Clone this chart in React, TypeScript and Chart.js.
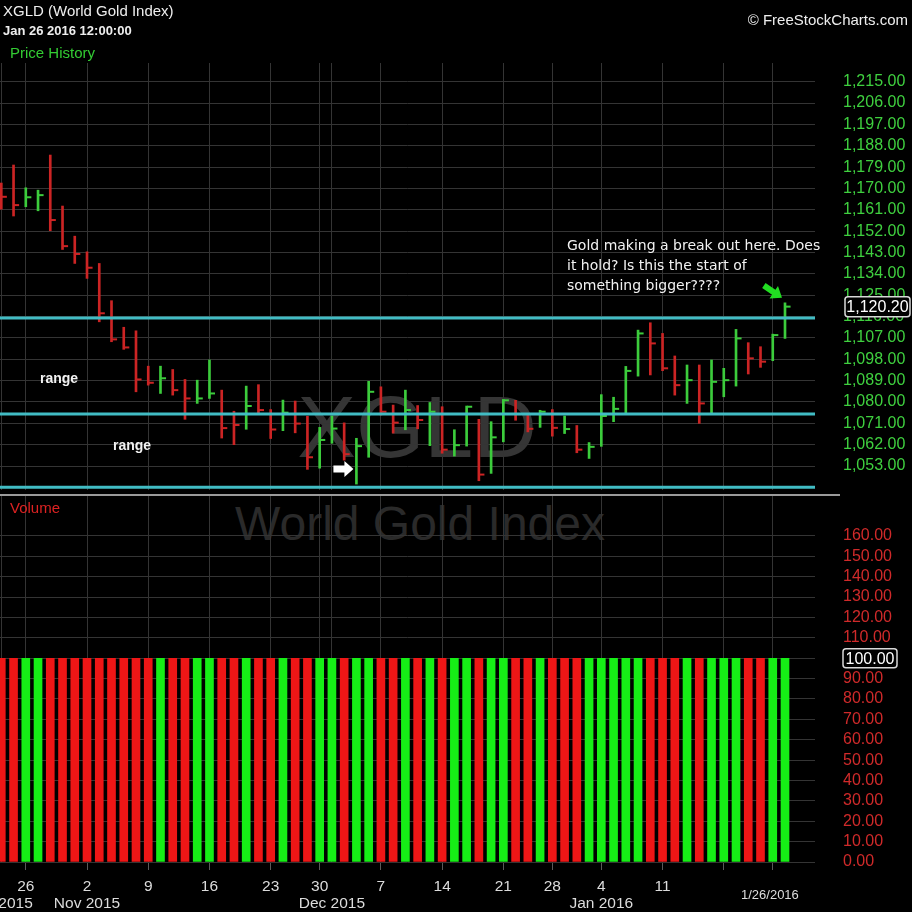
import React, { useEffect, useRef } from 'react';
import { Chart, registerables } from 'chart.js';

Chart.register(...registerables);

// ---------- data ----------
const tradingDays = [
  '2015-10-22', '2015-10-23', '2015-10-26', '2015-10-27', '2015-10-28', '2015-10-29', '2015-10-30',
  '2015-11-02', '2015-11-03', '2015-11-04', '2015-11-05', '2015-11-06',
  '2015-11-09', '2015-11-10', '2015-11-11', '2015-11-12', '2015-11-13',
  '2015-11-16', '2015-11-17', '2015-11-18', '2015-11-19', '2015-11-20',
  '2015-11-23', '2015-11-24', '2015-11-25', '2015-11-27',
  '2015-11-30', '2015-12-01', '2015-12-02', '2015-12-03', '2015-12-04',
  '2015-12-07', '2015-12-08', '2015-12-09', '2015-12-10', '2015-12-11',
  '2015-12-14', '2015-12-15', '2015-12-16', '2015-12-17', '2015-12-18',
  '2015-12-21', '2015-12-22', '2015-12-23', '2015-12-24',
  '2015-12-28', '2015-12-29', '2015-12-30', '2015-12-31',
  '2016-01-04', '2016-01-05', '2016-01-06', '2016-01-07', '2016-01-08',
  '2016-01-11', '2016-01-12', '2016-01-13', '2016-01-14', '2016-01-15',
  '2016-01-19', '2016-01-20', '2016-01-21', '2016-01-22',
  '2016-01-25', '2016-01-26',
];

const highs = [
  1172.3, 1179.9, 1170.3, 1169.3, 1184.1, 1162.6, 1149.9, 1143.3, 1138.4, 1122.7,
  1111.5, 1110.0, 1095.1, 1095.1, 1093.7, 1089.5, 1089.2, 1097.7, 1085.0, 1076.1,
  1086.7, 1087.3, 1076.8, 1080.8, 1080.4, 1074.0, 1069.3, 1074.1, 1071.2, 1064.7,
  1088.7, 1086.4, 1078.7, 1085.0, 1078.5, 1079.8, 1078.0, 1068.3, 1078.3, 1072.7,
  1071.7, 1081.1, 1080.7, 1074.5, 1076.5, 1076.8, 1074.1, 1070.1, 1062.9, 1083.1,
  1082.0, 1095.0, 1110.3, 1113.4, 1108.9, 1099.4, 1095.6, 1095.6, 1097.7, 1094.2,
  1110.6, 1105.0, 1103.3, 1108.6, 1121.8,
];

const lows = [
  1161.3, 1158.4, 1162.3, 1160.6, 1152.2, 1144.3, 1138.4, 1132.1, 1113.8, 1105.4,
  1102.2, 1084.3, 1087.1, 1083.6, 1082.9, 1072.7, 1079.4, 1081.5, 1064.8, 1062.0,
  1068.5, 1075.2, 1064.6, 1067.9, 1067.0, 1051.6, 1052.1, 1062.6, 1055.5, 1045.4,
  1056.7, 1074.5, 1066.9, 1068.3, 1068.7, 1061.6, 1058.4, 1057.2, 1061.4, 1046.8,
  1049.9, 1063.2, 1072.3, 1067.4, 1069.3, 1065.6, 1066.7, 1058.6, 1056.2, 1061.3,
  1071.7, 1074.7, 1090.9, 1091.4, 1093.2, 1082.9, 1079.4, 1071.0, 1075.5, 1082.2,
  1086.7, 1091.8, 1094.6, 1097.4, 1106.8,
];

const closes = [
  1166.5, 1163.0, 1166.3, 1167.2, 1156.7, 1145.7, 1142.4, 1136.6, 1117.4, 1106.4,
  1103.0, 1089.5, 1088.1, 1090.0, 1085.0, 1081.5, 1081.5, 1083.6, 1069.0, 1070.3,
  1078.3, 1076.6, 1068.4, 1075.5, 1070.9, 1056.7, 1064.0, 1068.8, 1058.0, 1061.4,
  1084.3, 1075.9, 1071.3, 1076.6, 1072.4, 1075.9, 1059.9, 1061.8, 1078.0, 1049.4,
  1065.1, 1080.7, 1074.9, 1068.7, 1075.9, 1069.1, 1068.6, 1059.9, 1061.1, 1074.1,
  1077.1, 1093.1, 1108.9, 1104.7, 1094.2, 1087.1, 1089.2, 1079.4, 1088.5, 1089.2,
  1106.8, 1098.4, 1097.0, 1108.2, 1120.2,
];

// 1 = up bar (green), 0 = down bar (red)
const priceUp = [
  0, 0, 1, 1, 0, 0, 0, 0, 0, 0,
  0, 0, 0, 1, 0, 0, 1, 1, 0, 0,
  1, 0, 0, 1, 0, 0, 1, 1, 0, 1,
  1, 0, 0, 1, 0, 1, 0, 1, 1, 0,
  1, 1, 0, 0, 1, 0, 1, 0, 1, 1,
  1, 1, 1, 0, 0, 0, 1, 0, 1, 1,
  1, 0, 0, 1, 1,
];

const volumes = [
  100, 100, 100, 100, 100, 100, 100, 100, 100, 100,
  100, 100, 100, 100, 100, 100, 100, 100, 100, 100,
  100, 100, 100, 100, 100, 100, 100, 100, 100, 100,
  100, 100, 100, 100, 100, 100, 100, 100, 100, 100,
  100, 100, 100, 100, 100, 100, 100, 100, 100, 100,
  100, 100, 100, 100, 100, 100, 100, 100, 100, 100,
  100, 100, 100, 100, 100,
];

const volumeUp = [
  0, 0, 1, 1, 0, 0, 0, 0, 0, 0,
  0, 0, 0, 1, 0, 0, 1, 1, 0, 0,
  1, 0, 0, 1, 0, 0, 1, 1, 0, 1,
  1, 0, 0, 1, 0, 1, 0, 1, 1, 0,
  1, 1, 0, 0, 1, 0, 0, 0, 1, 1,
  1, 1, 1, 0, 0, 0, 1, 0, 1, 1,
  1, 0, 0, 1, 1,
];

// horizontal range lines drawn on the price panel
const rangeLevels = [1115.4, 1074.9, 1044.1];

const priceTicks = [
  1053, 1062, 1071, 1080, 1089, 1098, 1107, 1116, 1125, 1134,
  1143, 1152, 1161, 1170, 1179, 1188, 1197, 1206, 1215,
];
const volumeTicks = [0, 10, 20, 30, 40, 50, 60, 70, 80, 90, 100, 110, 120, 130, 140, 150, 160];

const weekTickIndex = [2, 7, 12, 17, 22, 26, 31, 36, 41, 45, 49, 54, 59, 63];
const weekTickLabels = ['26', '2', '9', '16', '23', '30', '7', '14', '21', '28', '4', '11', '', ''];
const monthTickIndex = [0, 7, 27, 49];
const monthTickLabels = ['Oct 2015', 'Nov 2015', 'Dec 2015', 'Jan 2016'];

// ---------- styles ----------
const SANS = "'Liberation Sans', Arial, sans-serif";
const GRID = '#343434';
const CYAN = '#41bcc4';
const BAR_RED = '#cc2424';
const BAR_GREEN = '#3ccc3c';
const VOL_RED = '#ee1616';
const VOL_GREEN = '#16ee16';
const XMIN = -0.106;
const XMAX = 66.45;

Chart.defaults.font.family = SANS;

const fmt = (v: number) =>
  v.toLocaleString('en-US', { minimumFractionDigits: 2, maximumFractionDigits: 2 });

function roundRect(ctx: CanvasRenderingContext2D, x: number, y: number, w: number, h: number, r: number) {
  ctx.beginPath();
  ctx.moveTo(x + r, y);
  ctx.lineTo(x + w - r, y);
  ctx.quadraticCurveTo(x + w, y, x + w, y + r);
  ctx.lineTo(x + w, y + h - r);
  ctx.quadraticCurveTo(x + w, y + h, x + w - r, y + h);
  ctx.lineTo(x + r, y + h);
  ctx.quadraticCurveTo(x, y + h, x, y + h - r);
  ctx.lineTo(x, y + r);
  ctx.quadraticCurveTo(x, y, x + r, y);
  ctx.closePath();
}

function drawArrow(ctx: CanvasRenderingContext2D, tipX: number, tipY: number, angle: number,
  len: number, headLen: number, headW: number, bodyW: number, color: string) {
  ctx.save();
  ctx.translate(tipX, tipY);
  ctx.rotate(angle);
  ctx.beginPath();
  ctx.moveTo(0, 0);
  ctx.lineTo(-headLen, -headW / 2);
  ctx.lineTo(-headLen, -bodyW / 2);
  ctx.lineTo(-len, -bodyW / 2);
  ctx.lineTo(-len, bodyW / 2);
  ctx.lineTo(-headLen, bodyW / 2);
  ctx.lineTo(-headLen, headW / 2);
  ctx.closePath();
  ctx.fillStyle = color;
  ctx.fill();
  ctx.restore();
}

function valueBox(ctx: CanvasRenderingContext2D, left: number, cy: number, w: number, h: number, text: string) {
  ctx.save();
  roundRect(ctx, left, cy - h / 2, w, h, 3);
  ctx.fillStyle = '#000';
  ctx.fill();
  ctx.lineWidth = 1.5;
  ctx.strokeStyle = '#d8d8d8';
  ctx.stroke();
  ctx.fillStyle = '#ffffff';
  ctx.font = `16px ${SANS}`;
  ctx.textAlign = 'center';
  ctx.textBaseline = 'middle';
  ctx.fillText(text, left + w / 2, cy + 1);
  ctx.restore();
}

const priceOverlay = {
  id: 'priceOverlay',
  afterDatasetsDraw(chart: any) {
    const { ctx, scales } = chart;
    const x = scales.x;
    const y = scales.y;
    // white arrow pointing at the Dec 3 low
    drawArrow(ctx, x.getPixelForValue(29) - 3, y.getPixelForValue(1051.7), 0, 20, 9, 16, 7, '#ffffff');
    // green arrow pointing at the last bar
    const last = highs.length - 1;
    drawArrow(ctx, x.getPixelForValue(last) - 3, y.getPixelForValue(highs[last]) - 5, 0.6, 22, 10, 15, 6, '#22dd22');
  },
  afterDraw(chart: any) {
    const { ctx, scales, chartArea } = chart;
    const last = closes.length - 1;
    valueBox(ctx, chartArea.right + 30, scales.y.getPixelForValue(closes[last]), 65, 20, fmt(closes[last]));
  },
};

const volumeOverlay = {
  id: 'volumeOverlay',
  afterDraw(chart: any) {
    const { ctx, scales, chartArea } = chart;
    const last = volumes.length - 1;
    valueBox(ctx, chartArea.right + 28, scales.y.getPixelForValue(volumes[last]), 54, 19, fmt(volumes[last]));
  },
};

const idx = highs.map((_, i) => i);
const gridIndex = Array.from(new Set([...weekTickIndex, ...monthTickIndex])).sort((a, b) => a - b);

function priceConfig(): any {
  return {
    type: 'bar',
    data: {
      datasets: [
        ...rangeLevels.map((lv) => ({
          type: 'line',
          data: [{ x: XMIN, y: lv }, { x: XMAX, y: lv }],
          borderColor: CYAN,
          borderWidth: 3,
          pointRadius: 0,
          order: 0,
        })),
        {
          type: 'line',
          showLine: false,
          data: idx.map((i) => ({ x: i + 0.25, y: closes[i] })),
          pointStyle: 'line',
          pointRadius: 2.5,
          pointBorderWidth: 2,
          pointBorderColor: idx.map((i) => (priceUp[i] ? BAR_GREEN : BAR_RED)),
          pointBackgroundColor: idx.map((i) => (priceUp[i] ? BAR_GREEN : BAR_RED)),
          order: 1,
        },
        {
          type: 'bar',
          data: idx.map((i) => ({ x: i, y: [lows[i], highs[i]] })),
          backgroundColor: idx.map((i) => (priceUp[i] ? BAR_GREEN : BAR_RED)),
          borderWidth: 0,
          barThickness: 2,
          order: 2,
        },
      ],
    },
    options: {
      animation: false,
      responsive: false,
      maintainAspectRatio: false,
      events: [],
      layout: { autoPadding: false, padding: { top: 63, bottom: 4, left: 0, right: 0 } },
      plugins: { legend: { display: false }, tooltip: { enabled: false }, title: { display: false } },
      scales: {
        x: {
          type: 'linear',
          min: XMIN,
          max: XMAX,
          offset: false,
          grid: { color: GRID, drawTicks: false, offset: false },
          border: { display: false },
          ticks: { display: false },
          afterBuildTicks: (s: any) => { s.ticks = gridIndex.map((v) => ({ value: v })); },
          afterFit: (s: any) => { s.height = 0; s.paddingLeft = 0; s.paddingRight = 0; },
        },
        y: {
          type: 'linear',
          position: 'right',
          min: 1042.9,
          max: 1222.9,
          beginAtZero: false,
          grid: { color: GRID, drawTicks: false },
          border: { display: false },
          ticks: {
            color: '#3fd03f',
            font: { size: 16, family: SANS },
            padding: 28,
            callback: (v: number) => fmt(v),
          },
          afterBuildTicks: (s: any) => { s.ticks = priceTicks.map((v) => ({ value: v })); },
          afterFit: (s: any) => { s.width = 97; s.paddingTop = 0; s.paddingBottom = 0; },
        },
      },
    },
    plugins: [priceOverlay],
  };
}

function volumeConfig(): any {
  const dayFont = { size: 15.5, family: SANS, lineHeight: 1.2 };
  return {
    type: 'bar',
    data: {
      datasets: [
        {
          type: 'bar',
          data: idx.map((i) => ({ x: i, y: volumes[i] })),
          backgroundColor: idx.map((i) => (volumeUp[i] ? VOL_GREEN : VOL_RED)),
          borderWidth: 0,
          barThickness: 8,
        },
      ],
    },
    options: {
      animation: false,
      responsive: false,
      maintainAspectRatio: false,
      events: [],
      layout: { autoPadding: false, padding: 0 },
      plugins: { legend: { display: false }, tooltip: { enabled: false }, title: { display: false } },
      scales: {
        x: {
          type: 'linear',
          position: 'bottom',
          weight: 0,
          min: XMIN,
          max: XMAX,
          offset: false,
          grid: { color: GRID, drawTicks: true, tickLength: 8, tickColor: '#5a5a5a', offset: false },
          border: { display: false },
          ticks: {
            color: '#dcdcdc',
            font: dayFont,
            padding: 7,
            autoSkip: false,
            maxRotation: 0,
            minRotation: 0,
            callback: (_v: number, i: number) => weekTickLabels[i] ?? '',
          },
          afterBuildTicks: (s: any) => { s.ticks = weekTickIndex.map((v) => ({ value: v })); },
          afterFit: (s: any) => { s.height = 32; s.paddingLeft = 0; s.paddingRight = 0; },
        },
        x2: {
          type: 'linear',
          position: 'bottom',
          weight: 1,
          min: XMIN,
          max: XMAX,
          offset: false,
          grid: { color: GRID, drawTicks: false, offset: false },
          border: { display: false },
          ticks: {
            color: '#dcdcdc',
            font: dayFont,
            padding: 0,
            autoSkip: false,
            maxRotation: 0,
            minRotation: 0,
            callback: (_v: number, i: number) => monthTickLabels[i] ?? '',
          },
          afterBuildTicks: (s: any) => { s.ticks = monthTickIndex.map((v) => ({ value: v })); },
          afterFit: (s: any) => { s.height = 18; s.paddingLeft = 0; s.paddingRight = 0; },
        },
        y: {
          type: 'linear',
          position: 'right',
          min: 0,
          max: 179.6,
          grid: { color: GRID, drawTicks: false },
          border: { display: false },
          ticks: {
            color: '#d02a2a',
            font: { size: 16, family: SANS },
            padding: 28,
            callback: (v: number) => fmt(v),
          },
          afterBuildTicks: (s: any) => { s.ticks = volumeTicks.map((v) => ({ value: v })); },
          afterFit: (s: any) => { s.width = 97; s.paddingTop = 0; s.paddingBottom = 0; },
        },
      },
    },
    plugins: [volumeOverlay],
  };
}

function Txt(props: { x: number; top: number; size: number; color: string; bold?: boolean; family?: string; right?: boolean; lh?: number; children: any }) {
  const { x, top, size, color, bold, family, right, lh, children } = props;
  const style: any = {
    position: 'absolute',
    top,
    fontSize: size,
    lineHeight: `${lh ?? size}px`,
    color,
    fontWeight: bold ? 'bold' : 'normal',
    fontFamily: family ?? SANS,
    whiteSpace: 'nowrap',
  };
  if (right) style.right = 912 - x; else style.left = x;
  return <div style={style}>{children}</div>;
}

export default function App() {
  const priceRef = useRef<HTMLCanvasElement>(null);
  const volRef = useRef<HTMLCanvasElement>(null);

  useEffect(() => {
    const pc = new Chart(priceRef.current as HTMLCanvasElement, priceConfig());
    const vc = new Chart(volRef.current as HTMLCanvasElement, volumeConfig());
    return () => {
      pc.destroy();
      vc.destroy();
    };
  }, []);

  return (
    <div style={{ position: 'fixed', left: 0, top: 0, width: 912, height: 912, background: '#000', overflow: 'hidden', fontFamily: SANS }}>
      {/* watermarks */}
      <div style={{ position: 'absolute', left: 417, top: 427, transform: 'translate(-50%, -50%)', fontSize: 88, lineHeight: '88px', color: '#353535', fontFamily: SANS, whiteSpace: 'nowrap' }}>XGLD</div>
      <div style={{ position: 'absolute', left: 420, top: 524, transform: 'translate(-50%, -50%)', fontSize: 48, lineHeight: '48px', color: '#2a2a2a', fontFamily: SANS, whiteSpace: 'nowrap' }}>World Gold Index</div>

      <canvas ref={priceRef} width={912} height={494} style={{ position: 'absolute', left: 0, top: 0, width: 912, height: 494 }} />
      <div style={{ position: 'absolute', left: 0, top: 494, width: 840, height: 2, background: '#9a9a9a' }} />
      <canvas ref={volRef} width={912} height={416} style={{ position: 'absolute', left: 0, top: 496, width: 912, height: 416 }} />

      {/* header */}
      <Txt x={3} top={3} size={15} color="#eeeeee">XGLD (World Gold Index)</Txt>
      <Txt x={3} top={24} size={13} color="#eeeeee" bold>Jan 26 2016 12:00:00</Txt>
      <Txt x={10} top={45} size={15} color="#33cc33">Price History</Txt>
      <Txt x={908} top={12} size={15} color="#eeeeee" right>© FreeStockCharts.com</Txt>
      <Txt x={10} top={500} size={15} color="#dd2222">Volume</Txt>

      {/* annotations */}
      <Txt x={567} top={235} size={14} lh={20} color="#f2f2f2" family="'DejaVu Sans', sans-serif">
        Gold making a break out here. Does<br />it hold? Is this the start of<br />something bigger????
      </Txt>
      <Txt x={40} top={371} size={14} color="#f2f2f2" bold>range</Txt>
      <Txt x={113} top={438} size={14} color="#f2f2f2" bold>range</Txt>
      <Txt x={741} top={888} size={13} color="#dddddd">1/26/2016</Txt>
    </div>
  );
}
